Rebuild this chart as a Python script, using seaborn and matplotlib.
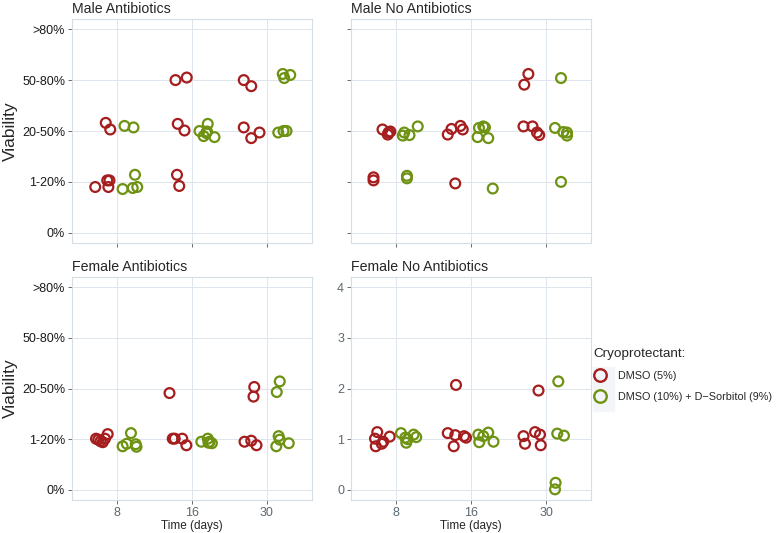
import numpy as np
import pandas as pd
import matplotlib
matplotlib.use("Agg")
import matplotlib.pyplot as plt
import seaborn as sns
from matplotlib.lines import Line2D
from matplotlib.patches import Rectangle

# 数据：天数、存活率等级、两种冷冻保护剂
days = [8, 16, 30]
viability_labels = ["0%", "1-20%", "20-50%", "50-80%", ">80%"]
numeric_labels = ["0", "1", "2", "3", "4"]
cryo_names = ["DMSO (5%)", "DMSO (10%) + D\u2212Sorbitol (9%)"]
panel_titles = ["Male Antibiotics", "Male No Antibiotics",
                "Female Antibiotics", "Female No Antibiotics"]

# 每个点: (天数, 抖动偏移, 存活率等级)
male_ab_dmso = [(8, -0.15, 2.16), (8, -0.09, 2.03), (8, -0.29, 0.90), (8, -0.13, 1.03),
                (8, -0.10, 1.03), (8, -0.115, 0.90),
                (16, -0.22, 3.00), (16, -0.07, 3.05), (16, -0.19, 2.14), (16, -0.10, 2.01),
                (16, -0.20, 1.14), (16, -0.17, 0.92),
                (30, -0.31, 3.00), (30, -0.21, 2.88), (30, -0.31, 2.07), (30, -0.21, 1.86),
                (30, -0.10, 1.97)]
male_ab_sorb = [(8, 0.10, 2.10), (8, 0.22, 2.07), (8, 0.24, 1.14), (8, 0.075, 0.86),
                (8, 0.21, 0.88), (8, 0.27, 0.90),
                (16, 0.10, 2.00), (16, 0.21, 2.14), (16, 0.155, 1.90), (16, 0.19, 1.96),
                (16, 0.20, 1.99), (16, 0.30, 1.88),
                (30, 0.21, 3.12), (30, 0.23, 3.04), (30, 0.31, 3.10), (30, 0.15, 1.97),
                (30, 0.22, 2.00), (30, 0.26, 2.00)]

male_noab_dmso = [(8, -0.30, 1.09), (8, -0.30, 1.03), (8, -0.18, 2.03), (8, -0.11, 1.93),
                  (8, -0.075, 1.99), (8, -0.10, 1.97),
                  (16, -0.31, 1.93), (16, -0.26, 2.04), (16, -0.14, 2.10), (16, -0.11, 2.03),
                  (16, -0.21, 0.97),
                  (30, -0.29, 2.91), (30, -0.235, 3.12), (30, -0.30, 2.09), (30, -0.18, 2.09),
                  (30, -0.12, 1.97), (30, -0.09, 1.92)]
male_noab_sorb = [(8, 0.11, 1.97), (8, 0.09, 1.91), (8, 0.18, 1.92), (8, 0.29, 2.09),
                  (8, 0.146, 1.12), (8, 0.146, 1.07),
                  (16, 0.106, 2.06), (16, 0.164, 2.09), (16, 0.186, 2.07), (16, 0.088, 1.88),
                  (16, 0.23, 1.86), (16, 0.29, 0.87),
                  (30, 0.20, 3.04), (30, 0.12, 2.06), (30, 0.23, 1.98), (30, 0.28, 1.97),
                  (30, 0.28, 1.91), (30, 0.20, 1.00)]

female_ab_dmso = [(8, -0.28, 1.01), (8, -0.25, 0.99), (8, -0.22, 0.96), (8, -0.19, 0.94),
                  (8, -0.16, 1.01), (8, -0.124, 1.10),
                  (16, -0.30, 1.91), (16, -0.257, 1.01), (16, -0.23, 1.01), (16, -0.13, 1.01),
                  (16, -0.075, 0.88),
                  (30, -0.30, 0.95), (30, -0.21, 0.97), (30, -0.14, 0.88), (30, -0.17, 2.03),
                  (30, -0.18, 1.84)]
female_ab_sorb = [(8, 0.075, 0.86), (8, 0.13, 0.91), (8, 0.186, 1.12), (8, 0.25, 0.90),
                  (8, 0.26, 0.85),
                  (16, 0.124, 0.95), (16, 0.21, 1.01), (16, 0.235, 0.95), (16, 0.265, 0.92),
                  (16, 0.22, 0.93),
                  (30, 0.17, 2.14), (30, 0.13, 1.93), (30, 0.155, 1.06), (30, 0.17, 0.99),
                  (30, 0.124, 0.86), (30, 0.29, 0.92)]

female_noab_dmso = [(8, -0.25, 1.14), (8, -0.28, 1.01), (8, -0.27, 0.86), (8, -0.19, 0.91),
                    (8, -0.17, 0.95), (8, -0.084, 1.05),
                    (16, -0.20, 2.07), (16, -0.31, 1.12), (16, -0.21, 1.08), (16, -0.23, 0.86),
                    (16, -0.093, 1.06), (16, -0.066, 1.03),
                    (30, -0.10, 1.96), (30, -0.30, 1.06), (30, -0.28, 0.91), (30, -0.146, 1.14),
                    (30, -0.08, 1.09), (30, -0.07, 0.88)]
female_noab_sorb = [(8, 0.066, 1.12), (8, 0.124, 1.03), (8, 0.137, 0.93), (8, 0.235, 1.09),
                    (8, 0.27, 1.04), (8, 0.155, 1.00),
                    (16, 0.097, 1.09), (16, 0.11, 0.94), (16, 0.164, 1.06), (16, 0.23, 1.13),
                    (16, 0.30, 0.95),
                    (30, 0.164, 2.14), (30, 0.15, 1.11), (30, 0.24, 1.07), (30, 0.128, 0.14),
                    (30, 0.12, 0.01)]

panel_points = [(male_ab_dmso, male_ab_sorb), (male_noab_dmso, male_noab_sorb),
                (female_ab_dmso, female_ab_sorb), (female_noab_dmso, female_noab_sorb)]

palette = {cryo_names[0]: "#A51D1D", cryo_names[1]: "#6E9212"}
grid_col = "#DEE5EC"
tick_grey = "#5C6870"

sns.set_theme(style="white")
plt.rcParams['font.family'] = ['Liberation Sans', 'DejaVu Sans']


def panel_frame(dmso, sorb):
    rows = []
    for cryo, pts in zip(cryo_names, [dmso, sorb]):
        for day, jit, val in pts:
            rows.append({"day": day, "cryo": cryo, "jitter": jit, "viability": val})
    df = pd.DataFrame(rows)
    df["pos"] = df["day"].map({d: i for i, d in enumerate(days)}) + df["jitter"]
    return df


fig = plt.figure(figsize=(7.77, 5.33), dpi=100)
W, H = 777, 533
# 面板位置 (像素)
boxes = [(72, 19, 240, 224), (351, 19, 240, 224), (72, 277, 240, 223), (351, 277, 240, 223)]

for k, (box, title, (dmso, sorb)) in enumerate(zip(boxes, panel_titles, panel_points)):
    x0, y0, w, h = box
    ax = fig.add_axes([x0 / W, 1 - (y0 + h) / H, w / W, h / H])
    df = panel_frame(dmso, sorb)
    sns.scatterplot(data=df, x="pos", y="viability", hue="cryo", hue_order=cryo_names,
                    palette=palette, s=50, linewidth=1.6, legend=False, ax=ax, zorder=3)
    coll = ax.collections[-1]
    fc = coll.get_facecolors()
    coll.set_edgecolors(fc)
    coll.set_facecolors("none")

    ax.set_xlim(-0.6, 2.6)
    ax.set_ylim(-0.2, 4.2)
    ax.set_xticks(range(len(days)))
    ax.set_yticks(range(5))
    ax.grid(True, color=grid_col, linewidth=0.7)
    ax.set_axisbelow(True)
    for sp in ax.spines.values():
        sp.set_color("#D5DDE5")
        sp.set_linewidth(0.8)
    ax.tick_params(axis="both", bottom=True, left=True, length=3, width=0.6,
                   color="#555555", pad=2)
    ax.set_xlabel("")
    ax.set_ylabel("")

    if k >= 2:
        ax.set_xticklabels([str(d) for d in days], fontsize=9, color=tick_grey)
        ax.set_xlabel("Time (days)", fontsize=8.5, labelpad=1)
    else:
        ax.set_xticklabels([])
    if k in (0, 2):
        ax.set_yticklabels(viability_labels, fontsize=9, color="#1A1A1A")
        ax.set_ylabel("Viability", fontsize=12.5, labelpad=3)
    elif k == 3:
        ax.set_yticklabels(numeric_labels, fontsize=9, color=tick_grey)
    else:
        ax.set_yticklabels([])
    ax.set_title(title, loc="left", fontsize=10.2, pad=4)

# 图例
fig.patches.append(Rectangle((593 / W, 1 - 411 / H), 21 / W, 44 / H,
                             transform=fig.transFigure, color="#F3F5F8", zorder=0))
handles = [Line2D([], [], marker="o", linestyle="", markerfacecolor="none",
                  markeredgecolor=palette[c], markeredgewidth=1.7, markersize=9)
           for c in cryo_names]
leg = fig.legend(handles, cryo_names, title="Cryoprotectant:", loc="upper left",
                 bbox_to_anchor=(593 / W, 1 - 348 / H), frameon=False, fontsize=7.8,
                 title_fontsize=9.7, handletextpad=1.0, labelspacing=1.0, handlelength=1.3,
                 borderaxespad=0, borderpad=0)
leg._legend_box.align = "left"

fig.savefig("out.png", dpi=100)
